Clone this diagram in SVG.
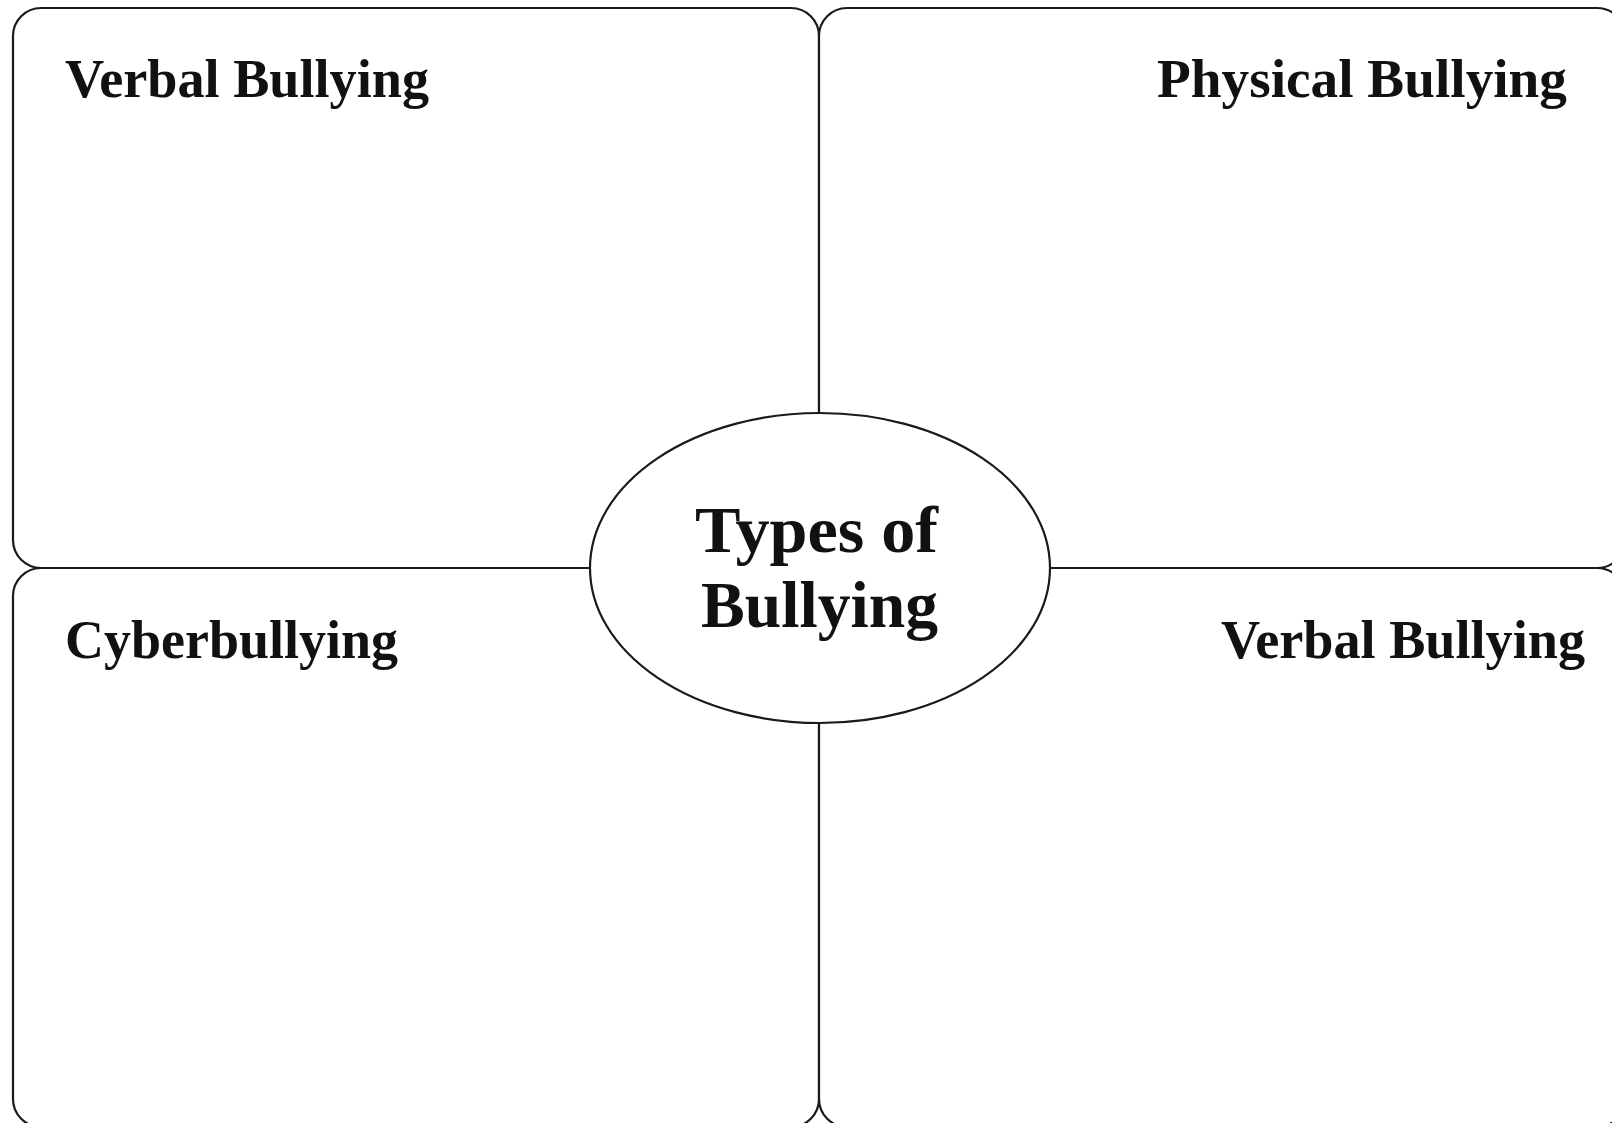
<svg xmlns="http://www.w3.org/2000/svg" width="1612" height="1123" viewBox="0 0 1612 1123">
<style>
.box{fill:#fff;stroke:#1a1a1a;stroke-width:2.2}
.lbl{font-family:"Liberation Serif","Times New Roman",serif;font-weight:bold;font-size:54px;fill:#111}
.ctr{font-family:"Liberation Serif","Times New Roman",serif;font-weight:bold;font-size:66px;fill:#111}
</style>
<rect width="1612" height="1123" fill="#fff"/>
<g id="verbal-top">
<rect class="box" x="13" y="8" width="806" height="560" rx="28" ry="28"/>
<text class="lbl" x="65" y="97" textLength="364" lengthAdjust="spacingAndGlyphs">Verbal Bullying</text>
</g>
<g id="physical">
<rect class="box" x="819" y="8" width="806" height="560" rx="28" ry="28"/>
<text class="lbl" x="1157" y="97" textLength="410" lengthAdjust="spacingAndGlyphs">Physical Bullying</text>
</g>
<g id="cyber">
<rect class="box" x="13" y="568" width="806" height="559" rx="28" ry="28"/>
<text class="lbl" x="65" y="658" textLength="333" lengthAdjust="spacingAndGlyphs">Cyberbullying</text>
</g>
<g id="verbal-bottom">
<rect class="box" x="819" y="568" width="806" height="559" rx="28" ry="28"/>
<text class="lbl" x="1221" y="658" textLength="364" lengthAdjust="spacingAndGlyphs">Verbal Bullying</text>
</g>
<g id="center">
<ellipse class="box" cx="820" cy="568" rx="230" ry="155"/>
<text class="ctr" x="695" y="552" textLength="243" lengthAdjust="spacingAndGlyphs">Types of</text>
<text class="ctr" x="701" y="627" textLength="237" lengthAdjust="spacingAndGlyphs">Bullying</text>
</g>
<g id="connectors"></g>
</svg>
